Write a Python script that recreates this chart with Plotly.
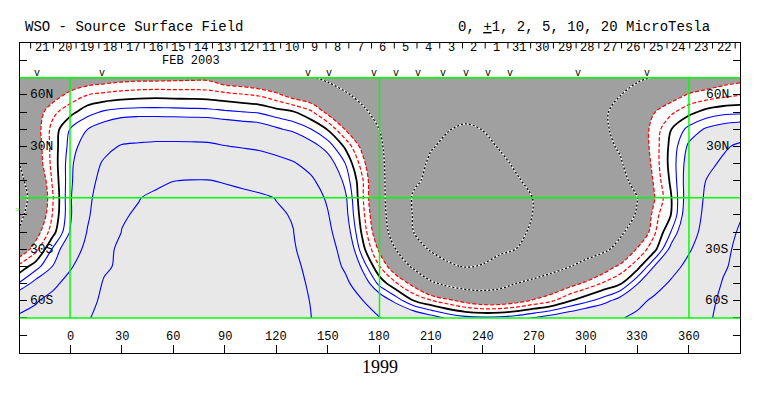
import plotly.graph_objects as go

# ---------------- data ----------------
# grid: Carrington longitude (deg) x latitude (deg); values in microtesla
lons = list(range(-30, 391, 10))
lats = list(range(-70, 71, 10))

b_s70 = [5.5, 6.0, 7.5, 8.6, 9.8, 10.8, 11.2, 11.5, 11.8, 12.0, 12.1, 12.1, 12.0, 11.9, 11.6, 11.0, 10.8, 10.05, 8.78, 7.53, 6.28, 5.05, 4.2, 3.4, 2.6, 1.8, 1.35, 1.2, 1.3, 1.6, 2.1, 2.65, 3.18, 3.72, 4.26, 4.8, 5.63, 6.65, 7.65, 8.7, 9.7, 10.5, 11.0]
b_s60 = [3.3, 4.73, 6.1, 7.76, 9.26, 10.5, 11.0, 11.4, 11.8, 12.1, 12.2, 12.2, 12.1, 12.0, 11.7, 11.0, 10.7, 9.94, 8.33, 6.73, 5.13, 3.03, 1.57, 0.02, -0.88, -1.64, -2.4, -2.9, -2.9, -2.45, -1.79, -1.15, -0.1, 0.71, 1.5, 2.63, 4.2, 5.6, 6.8, 8.0, 9.3, 10.5, 11.0]
b_s50 = [1.05, 2.47, 4.2, 6.27, 8.3, 10.3, 10.8, 11.2, 11.7, 12.0, 12.2, 12.2, 12.1, 12.0, 11.7, 10.9, 10.6, 9.75, 7.67, 5.79, 3.04, 0.69, -0.9, -2.47, -4.5, -5.6, -6.3, -6.4, -5.9, -4.91, -4.13, -3.34, -2.55, -1.73, -0.87, -0.13, 1.94, 3.76, 5.5, 7.06, 8.6, 10.2, 10.8]
b_s40 = [-0.75, 0.56, 2.05, 4.56, 7.1, 9.6, 10.5, 11.0, 11.6, 11.9, 12.1, 12.2, 12.1, 11.9, 11.6, 10.8, 10.5, 9.4, 6.84, 4.52, 1.71, -0.95, -3.2, -5.5, -7.6, -9.65, -10.15, -9.85, -8.9, -7.94, -7.0, -6.06, -5.12, -3.99, -2.83, -1.67, -0.46, 2.09, 3.97, 5.86, 7.78, 9.7, 10.8]
b_s30 = [-3.2, -1.38, 1.18, 3.1, 5.9, 9.6, 10.3, 10.8, 11.4, 11.8, 12.0, 12.1, 12.0, 11.8, 11.4, 10.6, 10.3, 8.49, 6.31, 3.79, 0.43, -2.26, -5.15, -8.2, -10.4, -10.9, -11.1, -10.9, -10.5, -9.95, -9.06, -8.2, -7.3, -6.44, -5.57, -4.14, -1.81, -0.32, 2.55, 4.66, 6.86, 9.07, 11.0]
b_s20 = [-4.9, -2.63, -0.4, 2.06, 5.1, 7.6, 10.05, 10.6, 11.2, 11.6, 11.8, 11.9, 11.8, 11.5, 11.1, 10.4, 10.02, 7.84, 5.69, 2.98, -0.21, -3.22, -6.66, -10.03, -10.8, -11.2, -11.4, -11.3, -11.0, -10.5, -9.6, -8.8, -7.9, -7.1, -6.25, -5.43, -3.69, -1.15, 1.15, 3.71, 6.08, 8.43, 10.5]
b_s10 = [-5.6, -3.7, -0.9, 1.74, 4.62, 6.9, 9.75, 10.3, 11.0, 11.3, 11.5, 11.6, 11.4, 11.1, 10.7, 10.2, 9.9, 7.26, 5.15, 2.51, -0.58, -3.71, -7.04, -10.3, -11.0, -11.5, -11.8, -11.6, -11.2, -10.7, -9.91, -9.1, -8.3, -7.45, -6.65, -5.8, -4.85, -1.37, 0.08, 3.2, 5.7, 7.8, 9.7]
b_eq = [-6.0, -4.1, -1.08, 1.8, 4.2, 6.9, 8.4, 9.9, 10.6, 10.9, 11.1, 11.2, 10.9, 10.6, 10.3, 9.95, 8.14, 6.43, 4.6, 2.28, -0.82, -4.05, -6.9, -10.46, -11.2, -11.7, -12.0, -11.9, -11.4, -10.8, -9.9, -9.1, -8.3, -7.4, -6.6, -5.8, -5.03, -2.06, 0.03, 2.88, 5.43, 7.0, 8.5]
b_n10 = [-5.6, -3.8, -0.81, 1.64, 4.08, 5.9, 7.1, 8.2, 9.34, 9.95, 10.1, 10.1, 9.8, 9.5, 9.27, 7.84, 6.68, 5.45, 3.71, 1.66, -0.82, -4.14, -6.85, -9.45, -10.8, -11.5, -11.8, -11.6, -11.0, -10.2, -9.4, -8.63, -7.87, -7.1, -6.34, -5.58, -4.37, -1.75, 0.29, 2.83, 5.05, 6.3, 7.4]
b_n20 = [-5.1, -2.97, -0.63, 1.58, 3.7, 5.35, 6.1, 6.8, 7.46, 7.74, 7.87, 7.9, 7.33, 7.0, 6.5, 5.88, 5.2, 4.15, 2.63, 1.02, -1.5, -4.35, -6.63, -8.8, -10.5, -11.2, -11.5, -11.2, -10.5, -9.65, -8.9, -8.2, -7.45, -6.7, -5.98, -5.24, -3.59, -1.54, 0.47, 2.62, 4.18, 5.5, 6.3]
b_n30 = [-4.6, -2.8, -0.59, 1.34, 2.8, 4.26, 5.2, 5.4, 5.58, 5.6, 5.57, 5.5, 5.09, 4.79, 4.52, 4.0, 3.48, 2.5, 1.57, -0.17, -2.4, -4.65, -6.4, -7.8, -9.8, -10.6, -10.9, -10.6, -9.84, -9.13, -8.43, -7.72, -7.01, -6.31, -5.6, -4.74, -3.04, -1.51, 0.38, 2.23, 3.38, 4.54, 5.6]
b_n40 = [-4.2, -2.6, -0.63, 1.03, 1.98, 2.65, 3.24, 3.47, 3.51, 3.46, 3.4, 3.35, 3.08, 2.85, 2.67, 2.18, 1.71, 1.03, -0.09, -2.05, -3.61, -5.03, -6.25, -7.5, -8.7, -9.9, -10.4, -9.95, -9.3, -8.66, -8.0, -7.3, -6.7, -6.0, -5.37, -4.35, -2.87, -1.58, 0.02, 1.33, 2.15, 2.6, 2.9]
b_n50 = [-4.3, -2.7, -1.27, -0.38, 0.62, 1.15, 1.39, 1.47, 1.47, 1.44, 1.39, 1.36, 1.18, 1.03, 0.88, 0.43, 0.08, -0.78, -2.35, -3.41, -4.66, -5.6, -6.6, -7.6, -8.4, -8.9, -9.1, -9.0, -8.7, -8.3, -7.8, -7.2, -6.6, -6.0, -5.35, -4.27, -3.15, -2.03, -1.18, -0.34, 0.35, 0.7, 0.75]
b_n60 = [-4.6, -3.4, -2.6, -1.67, -1.02, -0.74, -0.54, -0.42, -0.36, -0.41, -0.43, -0.5, -0.68, -0.89, -1.14, -1.72, -2.6, -3.1, -3.87, -4.77, -5.5, -6.1, -6.7, -7.2, -7.6, -7.9, -8.0, -7.9, -7.7, -7.4, -7.0, -6.6, -6.1, -5.7, -5.3, -5.05, -4.25, -3.41, -2.58, -1.88, -1.6, -1.3, -1.05]
b_n70 = [-4.9, -4.0, -3.5, -3.2, -2.9, -2.7, -2.5, -2.4, -2.4, -2.35, -2.3, -2.3, -3.0, -3.2, -3.6, -4.0, -4.5, -4.8, -5.4, -5.9, -6.2, -6.5, -6.8, -7.1, -7.3, -7.4, -7.5, -7.4, -7.3, -7.1, -6.8, -6.5, -6.1, -5.8, -5.5, -5.3, -5.3, -4.9, -4.1, -3.4, -2.9, -2.6, -2.4]

field = [b_s70, b_s60, b_s50, b_s40, b_s30, b_s20, b_s10, b_eq,
         b_n10, b_n20, b_n30, b_n40, b_n50, b_n60, b_n70]

lon_ticks = [0, 30, 60, 90, 120, 150, 180, 210, 240, 270, 300, 330, 360]
lat_label_vals = [60, 30, -30, -60]
lat_label_txt = ["60N", "30N", "30S", "60S"]
day_labels = ["21", "20", "19", "18", "17", "16", "15", "14", "13", "12", "11", "10",
              "9", "8", "7", "6", "5", "4", "3", "2", "1",
              "31", "30", "29", "28", "27", "26", "25", "24", "23", "22"]
obs_lons = [-19.4, 18.8, 138.6, 150.6, 176.6, 189.6, 202.6, 217.1, 230.1, 242.9, 255.9, 295.6, 335.4]

# ---------------- layout constants ----------------
X0, X1 = -29.1, 389.7
Y0, Y1 = -90.4, 90.2
FIRST_DAY_LON = -16.3
DAY_STEP = 13.22
MONO = "Liberation Mono"

fig = go.Figure()

# shaded regions: < -2 dark grey, -2..2 white, > 2 light grey
fig.add_trace(go.Contour(
    x=lons, y=lats, z=field,
    contours=dict(start=-2, end=2, size=4, coloring="fill", showlines=False),
    colorscale=[[0, "#a0a0a0"], [0.25, "#a0a0a0"], [0.25, "#ffffff"],
                [0.75, "#ffffff"], [0.75, "#e8e8e8"], [1, "#e8e8e8"]],
    line=dict(width=0, smoothing=1), showscale=False, hoverinfo="skip"))


def level_line(level, color, width, dash="solid"):
    fig.add_trace(go.Contour(
        x=lons, y=lats, z=field,
        contours=dict(start=level, end=level + 0.5, size=1, coloring="none"),
        line=dict(color=color, width=width, dash=dash, smoothing=1),
        showscale=False, hoverinfo="skip"))


for lv in (-10, -5):
    level_line(lv, "white", 1.3)
    level_line(lv, "black", 1.3, "2px,2px")
for lv in (-2, -1):
    level_line(lv, "#ff0000", 1.2, "4px,2px")
for lv in (1, 2, 5, 10):
    level_line(lv, "#0000ff", 1.1)
level_line(0, "black", 1.8)

shapes = []
G = "#00ff00"
for yv in (0, 70, -70):
    shapes.append(dict(type="line", xref="x", yref="y", x0=X0, x1=X1, y0=yv, y1=yv,
                       line=dict(color=G, width=1.5), layer="above"))
for xv in (0, 180, 360):
    shapes.append(dict(type="line", xref="x", yref="y", x0=xv, x1=xv, y0=-70, y1=70,
                       line=dict(color=G, width=1.5), layer="above"))
for i in range(len(day_labels) + 1):
    xs = FIRST_DAY_LON - DAY_STEP / 2 + DAY_STEP * i
    shapes.append(dict(type="line", xref="x", yref="y", x0=xs, x1=xs, y0=Y1, y1=Y1 - 3.2,
                       line=dict(color="black", width=1), layer="above"))

ann = []
ann.append(dict(text="WSO - Source Surface Field", xref="paper", yref="paper",
                x=0.0046, y=1.0526, xanchor="left", yanchor="middle", showarrow=False,
                font=dict(family=MONO, size=14, color="black")))
ann.append(dict(text="0, <u>+</u>1, 2, 5, 10, 20 MicroTesla", xref="paper", yref="paper",
                x=0.961, y=1.0526, xanchor="right", yanchor="middle", showarrow=False,
                font=dict(family=MONO, size=14, color="black")))
ann.append(dict(text="1999", xref="paper", yref="paper", x=0.5, y=-0.045,
                xanchor="center", yanchor="middle", showarrow=False,
                font=dict(family="Liberation Serif", size=18, color="black")))
for v in lon_ticks:
    ann.append(dict(text=str(v), xref="x", yref="y", x=v, y=-81.1, xanchor="center",
                    yanchor="middle", showarrow=False,
                    font=dict(family=MONO, size=12, color="black")))
for v, t in zip(lat_label_vals, lat_label_txt):
    ann.append(dict(text=t, xref="paper", yref="y", x=0.0107, y=v, xanchor="left",
                    yanchor="middle", showarrow=False,
                    font=dict(family=MONO, size=13, color="black")))
    ann.append(dict(text=t, xref="paper", yref="y", x=0.9875, y=v, xanchor="right",
                    yanchor="middle", showarrow=False,
                    font=dict(family=MONO, size=13, color="black")))
for i, t in enumerate(day_labels):
    ann.append(dict(text=t, xref="x", yref="y", x=FIRST_DAY_LON + DAY_STEP * i, y=87.3,
                    xanchor="center", yanchor="middle", showarrow=False,
                    font=dict(family=MONO, size=12, color="black")))
ann.append(dict(text="FEB 2003", xref="x", yref="y", x=70.4, y=79.7, xanchor="center",
                yanchor="middle", showarrow=False,
                font=dict(family=MONO, size=12, color="black")))
for v in obs_lons:
    ann.append(dict(text="v", xref="x", yref="y", x=v, y=72.6, xanchor="center",
                    yanchor="middle", showarrow=False,
                    font=dict(family=MONO, size=10, color="black")))
ann.append(dict(text="&gt;", xref="paper", yref="y", x=-0.004, y=-7, xanchor="center",
                yanchor="middle", showarrow=False,
                font=dict(family=MONO, size=8, color=G)))

# the page body adds an 8 px margin, so the figure is sized to fit inside it
fig.update_layout(
    width=747, height=380,
    margin=dict(l=12, r=15, t=35, b=35),
    paper_bgcolor="white", plot_bgcolor="white", showlegend=False,
    shapes=shapes, annotations=ann,
    xaxis=dict(range=[X0, X1], showgrid=False, zeroline=False, showline=True,
               linecolor="black", linewidth=1, mirror=True, ticks="inside", ticklen=8,
               tickcolor="black", tickvals=lon_ticks, showticklabels=False),
    yaxis=dict(range=[Y0, Y1], showgrid=False, zeroline=False, showline=True,
               linecolor="black", linewidth=1, mirror="ticks", ticks="inside", ticklen=7,
               tickcolor="black",
               tickvals=[-80, -70, -60, -50, -40, -30, -20, -10, 10, 20, 30, 40, 50, 60, 70, 80],
               showticklabels=False),
)

fig.write_html("out.html")
